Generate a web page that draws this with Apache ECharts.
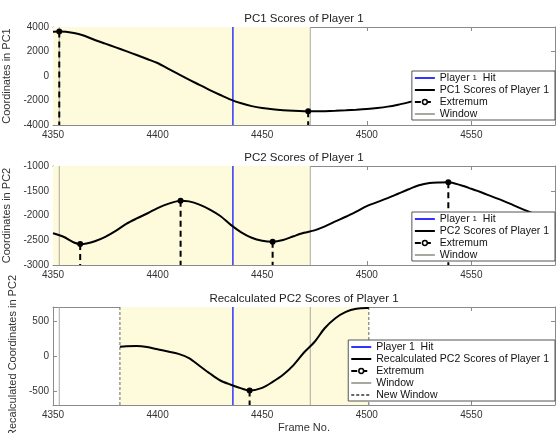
<!DOCTYPE html>
<html><head><meta charset="utf-8">
<script src="https://cdn.jsdelivr.net/npm/echarts@6/dist/echarts.min.js"></script>
<style>html,body{margin:0;padding:0;background:#fff}#c{width:557px;height:433px}</style>
</head><body><div id="c"></div>
<script>
// ---- data ----
const pc1Frames = [4350,4353,4360,4365,4370,4375,4380,4385,4390,4395,4400,4405,4410,4415,4420,4425,4430,4435,4440,4445,4450,4455,4460,4465,4470,4475,4480,4485,4490,4495,4500,4505,4510,4515,4520,4525,4530,4535,4540,4545,4550,4555,4560,4565,4570,4575,4580,4585,4590];
const pc1Values = [3620,3630,3510,3280,2940,2640,2340,2030,1710,1390,1060,600,150,-300,-720,-1150,-1550,-1930,-2230,-2460,-2620,-2720,-2790,-2840,-2875,-2885,-2870,-2840,-2800,-2750,-2690,-2610,-2500,-2340,-2150,-1950,-1740,-1530,-1330,-1130,-930,-740,-560,-380,-210,-50,100,230,350];
const pc2Frames = [4350,4355,4360,4363,4366,4370,4375,4380,4385,4390,4395,4400,4405,4411,4415,4420,4425,4430,4435,4440,4445,4450,4455,4460,4465,4470,4475,4480,4485,4490,4495,4500,4505,4510,4515,4520,4525,4530,4535,4539,4545,4550,4555,4560,4565,4570,4575,4580,4585,4590];
const pc2Values = [-2360,-2430,-2545,-2576,-2565,-2520,-2430,-2310,-2170,-2060,-1960,-1850,-1765,-1700,-1715,-1780,-1880,-2010,-2190,-2340,-2450,-2510,-2530,-2495,-2420,-2350,-2300,-2220,-2120,-2025,-1920,-1810,-1730,-1650,-1560,-1470,-1390,-1345,-1332,-1329,-1390,-1460,-1535,-1620,-1700,-1790,-1880,-1970,-2100,-2220];
const recFrames = [4382,4385,4390,4395,4400,4405,4410,4415,4420,4425,4430,4435,4440,4444,4450,4455,4460,4465,4470,4475,4480,4485,4490,4495,4500,4501];
const recValues = [131,138,143,128,95,65,30,-30,-140,-250,-350,-410,-462,-493,-455,-370,-268,-130,50,200,400,540,630,675,685,685];
const hitFrame = 4436;
const windowFrames = [4353, 4473];
const newWindowFrames = [4382, 4501];
const pc1Extrema = [[4353, 3630], [4472, -2880]];
const pc2Extrema = [[4363, -2576], [4411, -1700], [4455, -2530], [4539, -1329]];
const recExtrema = [[4444, -493]];
const xTicks = [4350, 4400, 4450, 4500, 4550];
const yTicks1 = [-4000, -2000, 0, 2000, 4000];
const yTicks2 = [-3000, -2500, -2000, -1500, -1000];
const yTicks3 = [-500, 0, 500];
const titles = ['PC1 Scores of Player 1', 'PC2 Scores of Player 1', 'Recalculated PC2 Scores of Player 1'];
const yNames = ['Coordinates in PC1', 'Coordinates in PC2', 'Recalculated Coordinates in PC2'];
const curveNames = ['PC1 Scores of Player 1', 'PC2 Scores of Player 1', 'Recalculated PC2 Scores of Player 1'];
const hitName = 'Player 1  Hit';

// ---- layout ----
const FONT = 'Liberation Sans, Arial, sans-serif';
const X0 = 4350, X1 = 4590;
const panels = [
  {top: 27, height: 98, ymin: -4000, ymax: 4000, ticks: yTicks1, frames: pc1Frames, values: pc1Values, ext: pc1Extrema, yellow: [4350, 4473], legendTop: 71},
  {top: 166, height: 99, ymin: -3000, ymax: -1000, ticks: yTicks2, frames: pc2Frames, values: pc2Values, ext: pc2Extrema, yellow: [4350, 4473], legendTop: 212},
  {top: 307, height: 98, ymin: -700, ymax: 700, ticks: yTicks3, frames: recFrames, values: recValues, ext: recExtrema, yellow: newWindowFrames, legendTop: 340}
];
const frameColor = '#8a8a8a';
const plain = v => String(v);
const grids = [], xAxes = [], yAxes = [], series = [], legends = [], graphics = [];

panels.forEach((p, i) => {
  grids.push({left: 53, right: 2, top: p.top, height: p.height, containLabel: false, outerBoundsMode: 'none'});
  const baseX = {type: 'value', gridIndex: i, min: X0, max: X1, splitLine: {show: false},
    axisLine: {show: true, onZero: false, lineStyle: {color: frameColor, width: 1}},
    axisTick: {show: true, inside: true, length: 4, customValues: xTicks, lineStyle: {color: frameColor}}};
  xAxes.push(Object.assign({}, baseX, {position: 'bottom',
    axisLabel: {show: true, customValues: xTicks, formatter: plain, color: '#333', fontSize: 10, fontFamily: FONT, margin: 5},
    name: i === 2 ? 'Frame No.' : '', nameLocation: 'middle', nameGap: 17,
    nameTextStyle: {color: '#333', fontSize: 11, fontFamily: FONT}}));
  xAxes.push(Object.assign({}, baseX, {position: 'top', axisLabel: {show: false}}));
  const baseY = {type: 'value', gridIndex: i, min: p.ymin, max: p.ymax, splitLine: {show: false},
    axisLine: {show: true, onZero: false, lineStyle: {color: frameColor, width: 1}},
    axisTick: {show: true, inside: true, length: 4, customValues: p.ticks, lineStyle: {color: frameColor}}};
  yAxes.push(Object.assign({}, baseY, {position: 'left',
    axisLabel: {show: true, customValues: p.ticks, formatter: plain, color: '#333', fontSize: 10, fontFamily: FONT, margin: 4},
    name: yNames[i], nameLocation: 'middle', nameGap: 33, nameRotate: 90,
    nameTextStyle: {color: '#333', fontSize: 11, fontFamily: FONT}}));
  yAxes.push(Object.assign({}, baseY, {position: 'right', axisLabel: {show: false}}));

  const xi = 2 * i, yi = 2 * i;
  // yellow window area
  series.push({type: 'line', name: 'bg' + i, xAxisIndex: xi, yAxisIndex: yi, data: [], z: 0, silent: true,
    markArea: {silent: true, itemStyle: {color: '#fdfbdc'}, data: [[{xAxis: p.yellow[0]}, {xAxis: p.yellow[1]}]]}});
  // window lines
  windowFrames.forEach(f => series.push({type: 'line', name: 'Window', xAxisIndex: xi, yAxisIndex: yi,
    data: [[f, p.ymin], [f, p.ymax]], symbol: 'none', z: 1, itemStyle: {color: '#a8a8a0'},
    lineStyle: {color: '#a8a8a0', width: 1}}));
  if (i === 2) {
    newWindowFrames.forEach(f => series.push({type: 'line', name: 'New Window', xAxisIndex: xi, yAxisIndex: yi,
      data: [[f, p.ymin], [f, p.ymax]], symbol: 'none', z: 1, itemStyle: {color: '#666'},
      lineStyle: {color: '#666', width: 1, type: [3, 2]}}));
  }
  // hit line
  series.push({type: 'line', name: hitName, xAxisIndex: xi, yAxisIndex: yi,
    data: [[hitFrame, p.ymin], [hitFrame, p.ymax]], symbol: 'none', z: 2, itemStyle: {color: '#3434ff'},
    lineStyle: {color: '#3434ff', width: 1.5}});
  // curve
  series.push({type: 'line', name: curveNames[i], xAxisIndex: xi, yAxisIndex: yi,
    data: p.frames.map((f, k) => [f, p.values[k]]), symbol: 'none', smooth: 0.3, z: 3,
    itemStyle: {color: '#000'}, lineStyle: {color: '#000', width: 2}});
  // extrema
  p.ext.forEach(e => series.push({type: 'line', name: 'Extremum', xAxisIndex: xi, yAxisIndex: yi,
    data: [{value: [e[0], e[1]], symbol: 'circle', symbolSize: 6}, {value: [e[0], p.ymin], symbol: 'none'}],
    symbol: 'circle', symbolSize: 6, showSymbol: true, z: 3,
    itemStyle: {color: '#000'}, lineStyle: {color: '#000', width: 2, type: [6, 4]}}));

  const names = [hitName, curveNames[i], 'Extremum', 'Window'];
  if (i === 2) names.push('New Window');
  legends.push({
    z: 20, zlevel: 0,
    orient: 'vertical', right: 2, top: p.legendTop, selectedMode: false,
    itemWidth: 20, itemHeight: 6, itemGap: 0, padding: [1, 6, 0, 2],
    backgroundColor: '#fff', borderColor: '#555', borderWidth: 1, borderRadius: 0,
    textStyle: {color: '#111', fontSize: 10.5, fontFamily: FONT, lineHeight: 12, height: 12,
      rich: {a: {fontSize: 10.5, fontFamily: FONT, color: '#111', lineHeight: 12}, s: {fontSize: 8, fontFamily: FONT, color: '#111', lineHeight: 12}}},
    formatter: (n) => (i < 2 && n === hitName) ? '{a|Player }{s|1}{a|  Hit}' : n,
    data: names.map(n => n === 'Extremum'
      ? {name: n, itemStyle: {color: '#fff', borderColor: '#000', borderWidth: 1.5, opacity: 1}}
      : {name: n, itemStyle: {opacity: 0}})
  });
  graphics.push({type: 'text', x: 304, y: p.top - 8, silent: true,
    style: {text: titles[i], align: 'center', verticalAlign: 'middle', font: '11.5px ' + FONT, fill: '#222'}});
});

const chart = echarts.init(document.getElementById('c'));
chart.setOption({
  animation: false,
  backgroundColor: '#fff',
  grid: grids, xAxis: xAxes, yAxis: yAxes, series: series, legend: legends, graphic: graphics
});
</script></body></html>
